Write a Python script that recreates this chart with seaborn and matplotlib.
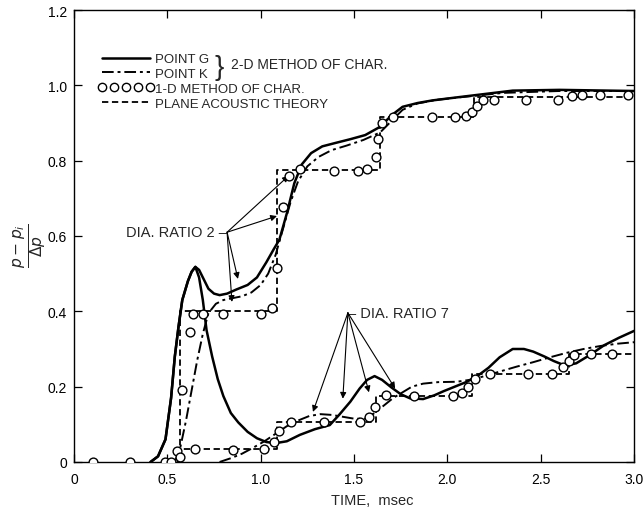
import numpy as np
import matplotlib
matplotlib.use("Agg")
import matplotlib.pyplot as plt
from matplotlib.lines import Line2D
import seaborn as sns

# ---- data (time in msec, (p - pi)/dp) ----
# point G, diameter ratio 2
g2_t = [0.41, 0.45, 0.49, 0.52, 0.54, 0.56, 0.58, 0.61, 0.63, 0.65,
        0.67, 0.69, 0.72, 0.75, 0.78, 0.82, 0.87, 0.93, 0.98, 1.03,
        1.07, 1.10, 1.14, 1.18, 1.22, 1.27, 1.33, 1.40, 1.48, 1.56,
        1.64, 1.70, 1.76, 1.84, 1.92, 2.05, 2.20, 2.35, 2.60, 3.00]
g2_v = [0.0, 0.015, 0.06, 0.17, 0.28, 0.36, 0.43, 0.48, 0.505, 0.518,
        0.51, 0.49, 0.46, 0.447, 0.443, 0.447, 0.458, 0.47, 0.49, 0.53,
        0.565, 0.59, 0.66, 0.74, 0.79, 0.82, 0.838, 0.847, 0.857, 0.868,
        0.89, 0.92, 0.943, 0.953, 0.96, 0.968, 0.977, 0.986, 0.988, 0.985]

# point G, diameter ratio 7
g7_t = [0.41, 0.45, 0.49, 0.52, 0.54, 0.56, 0.58, 0.61, 0.63, 0.65,
        0.67, 0.69, 0.71, 0.74, 0.77, 0.80, 0.84, 0.88, 0.93, 0.98,
        1.03, 1.08, 1.14, 1.21, 1.29, 1.37, 1.42, 1.48, 1.53, 1.57,
        1.61, 1.65, 1.70, 1.75, 1.80, 1.87, 1.93, 1.98, 2.04, 2.10,
        2.16, 2.22, 2.28, 2.35, 2.41, 2.46, 2.52, 2.57, 2.63, 2.69,
        2.76, 2.84, 2.92, 3.00]
g7_v = [0.0, 0.015, 0.06, 0.17, 0.28, 0.36, 0.43, 0.48, 0.505, 0.518,
        0.49, 0.43, 0.35, 0.28, 0.22, 0.175, 0.13, 0.105, 0.08, 0.063,
        0.053, 0.05, 0.055, 0.072, 0.087, 0.098, 0.125, 0.16, 0.195, 0.218,
        0.228, 0.218, 0.198, 0.18, 0.169, 0.167, 0.177, 0.188, 0.2, 0.212,
        0.228, 0.25, 0.278, 0.3, 0.3, 0.293, 0.28, 0.268, 0.256, 0.262,
        0.283, 0.31, 0.33, 0.348]

# point K, diameter ratio 2
k2_t = [0.54, 0.57, 0.60, 0.63, 0.66, 0.69, 0.72, 0.76, 0.80, 0.85,
        0.90, 0.95, 1.00, 1.04, 1.08, 1.12, 1.16, 1.20, 1.25, 1.31,
        1.38, 1.46, 1.55, 1.64, 1.70, 1.76, 1.84, 1.95, 2.10, 2.30,
        2.60, 3.00]
k2_v = [0.0, 0.04, 0.11, 0.19, 0.27, 0.34, 0.395, 0.42, 0.43, 0.435,
        0.44, 0.45, 0.47, 0.50, 0.55, 0.62, 0.69, 0.745, 0.785, 0.81,
        0.828, 0.84, 0.855, 0.875, 0.905, 0.935, 0.952, 0.962, 0.97, 0.98,
        0.985, 0.985]

# point K, diameter ratio 7
k7_t = [0.78, 0.84, 0.90, 0.96, 1.02, 1.08, 1.14, 1.20, 1.26, 1.32,
        1.38, 1.44, 1.50, 1.56, 1.61, 1.66, 1.71, 1.76, 1.81, 1.87,
        1.95, 2.05, 2.12, 2.20, 2.28, 2.37, 2.46, 2.55, 2.64, 2.73,
        2.82, 2.91, 3.00]
k7_v = [0.0, 0.01, 0.022, 0.038, 0.055, 0.075, 0.095, 0.11, 0.122, 0.127,
        0.125, 0.12, 0.115, 0.115, 0.13, 0.15, 0.17, 0.185, 0.2, 0.208,
        0.212, 0.213, 0.218, 0.228, 0.24, 0.253, 0.265, 0.278, 0.29, 0.3,
        0.308, 0.314, 0.318]

# 1-D method of characteristics
moc2_t = [0.10, 0.30, 0.49, 0.52, 0.58, 0.62, 0.64, 0.69, 0.80, 1.00,
          1.06, 1.09, 1.12, 1.15, 1.21, 1.39, 1.52, 1.57, 1.62, 1.63,
          1.65, 1.71, 1.92, 2.04, 2.10, 2.13, 2.16, 2.19, 2.25, 2.42,
          2.59, 2.67, 2.72, 2.82, 2.97]
moc2_v = [0.0, 0.0, 0.0, 0.0, 0.19, 0.345, 0.393, 0.393, 0.393, 0.393,
          0.41, 0.515, 0.677, 0.76, 0.778, 0.773, 0.773, 0.778, 0.81, 0.857,
          0.90, 0.915, 0.915, 0.915, 0.918, 0.93, 0.945, 0.96, 0.96, 0.96,
          0.96, 0.972, 0.974, 0.974, 0.974]
moc7_t = [0.55, 0.57, 0.65, 0.85, 1.02, 1.07, 1.10, 1.16, 1.34, 1.53,
          1.58, 1.61, 1.67, 1.82, 2.03, 2.08, 2.11, 2.15, 2.23, 2.43,
          2.56, 2.62, 2.65, 2.68, 2.77, 2.88]
moc7_v = [0.03, 0.013, 0.035, 0.032, 0.035, 0.053, 0.083, 0.106, 0.106, 0.106,
          0.12, 0.146, 0.178, 0.175, 0.175, 0.183, 0.20, 0.22, 0.233, 0.233,
          0.233, 0.252, 0.268, 0.284, 0.287, 0.287]

# plane acoustic theory (steps)
pa2_t = [0.50, 0.57, 1.09, 1.64, 2.14, 3.00]
pa2_v = [0.0, 0.40, 0.775, 0.915, 0.97, 0.97]
pa7_t = [0.50, 0.57, 1.09, 1.62, 2.13, 2.65, 3.00]
pa7_v = [0.0, 0.035, 0.105, 0.175, 0.233, 0.287, 0.287]

x_ticks = [0, 0.5, 1.0, 1.5, 2.0, 2.5, 3.0]
x_labels = ["0", "0.5", "1.0", "1.5", "2.0", "2.5", "3.0"]
y_ticks = [0, 0.2, 0.4, 0.6, 0.8, 1.0, 1.2]
y_labels = ["0", "0.2", "0.4", "0.6", "0.8", "1.0", "1.2"]

# arrow targets
ratio2_targets = [(1.15, 0.76), (1.087, 0.653), (0.846, 0.425), (0.878, 0.486)]
ratio7_targets = [(1.28, 0.133), (1.44, 0.168), (1.58, 0.185), (1.72, 0.195)]

sns.set_style("ticks")
plt.rcParams['font.family'] = ['Liberation Sans', 'DejaVu Sans']
plt.rcParams['mathtext.fontset'] = 'dejavusans'

fig = plt.figure(figsize=(6.43, 5.10), dpi=100)
ax = fig.add_axes([0.1151, 0.0922, 0.871, 0.8862])

dashdot = (0, (6, 2, 1.5, 2))
dashed = (0, (3.5, 2))

sns.lineplot(x=g2_t, y=g2_v, ax=ax, color="black", lw=1.8, sort=False, estimator=None)
sns.lineplot(x=g7_t, y=g7_v, ax=ax, color="black", lw=1.8, sort=False, estimator=None)
sns.lineplot(x=k2_t, y=k2_v, ax=ax, color="black", lw=1.4, linestyle=dashdot,
             sort=False, estimator=None)
sns.lineplot(x=k7_t, y=k7_v, ax=ax, color="black", lw=1.4, linestyle=dashdot,
             sort=False, estimator=None)
sns.lineplot(x=pa2_t, y=pa2_v, ax=ax, color="black", lw=1.3, linestyle=dashed,
             drawstyle="steps-post", sort=False, estimator=None)
sns.lineplot(x=pa7_t, y=pa7_v, ax=ax, color="black", lw=1.3, linestyle=dashed,
             drawstyle="steps-post", sort=False, estimator=None)
sns.scatterplot(x=moc2_t + moc7_t, y=moc2_v + moc7_v, ax=ax, s=40, marker="o",
                color="white", edgecolor="black", linewidth=1.0, zorder=5)

ax.set_xlim(0, 3.0)
ax.set_ylim(0, 1.2)
ax.set_xticks(x_ticks, x_labels)
ax.set_yticks(y_ticks, y_labels)
ax.tick_params(direction="in", length=6, width=0.9, top=True, right=True,
               labelsize=10, colors="black")
ax.tick_params(axis="x", pad=7)
ax.tick_params(axis="y", pad=5)
for sp in ax.spines.values():
    sp.set_linewidth(1.0)
    sp.set_color("black")

ax.set_xlabel("TIME,  msec", fontsize=10.5)
ax.xaxis.set_label_coords(0.532, -0.068)
ax.set_ylabel(r"$\frac{p-p_i}{\Delta p}$", fontsize=16, rotation=90)
ax.yaxis.set_label_coords(-0.045, 0.48)

# legend
handles = [
    Line2D([], [], color="black", lw=1.8),
    Line2D([], [], color="black", lw=1.4, linestyle=dashdot),
    Line2D([], [], color="black", ls="none", marker="o", ms=6,
           mfc="white", mec="black", mew=1.0),
    Line2D([], [], color="black", lw=1.3, linestyle=dashed),
]
labels = ["POINT G", "POINT K", "1-D METHOD OF CHAR.", "PLANE ACOUSTIC THEORY"]
ax.legend(handles, labels, loc="upper left", bbox_to_anchor=(0.043, 0.905),
          frameon=False, fontsize=9.5, handlelength=4.2, handletextpad=0.15,
          labelspacing=0.2, borderpad=0, borderaxespad=0, numpoints=5)
ax.text(0.775, 1.05, "}", fontsize=20, ha="center", va="center")
ax.text(0.84, 1.056, "2-D METHOD OF CHAR.", fontsize=10, ha="left", va="center")

# annotations
ax.text(0.82, 0.61, "DIA. RATIO 2 \u2013", fontsize=10.5, ha="right", va="center")
for tx, ty in ratio2_targets:
    ax.annotate("", xy=(tx, ty), xytext=(0.82, 0.61),
                arrowprops=dict(arrowstyle="-|>", lw=0.8, color="black",
                                mutation_scale=9, shrinkA=0, shrinkB=0))
ax.text(1.467, 0.396, "\u2013 DIA. RATIO 7", fontsize=10.5, ha="left", va="center")
for tx, ty in ratio7_targets:
    ax.annotate("", xy=(tx, ty), xytext=(1.467, 0.396),
                arrowprops=dict(arrowstyle="-|>", lw=0.8, color="black",
                                mutation_scale=9, shrinkA=0, shrinkB=0))

fig.savefig("out.png", dpi=100)
